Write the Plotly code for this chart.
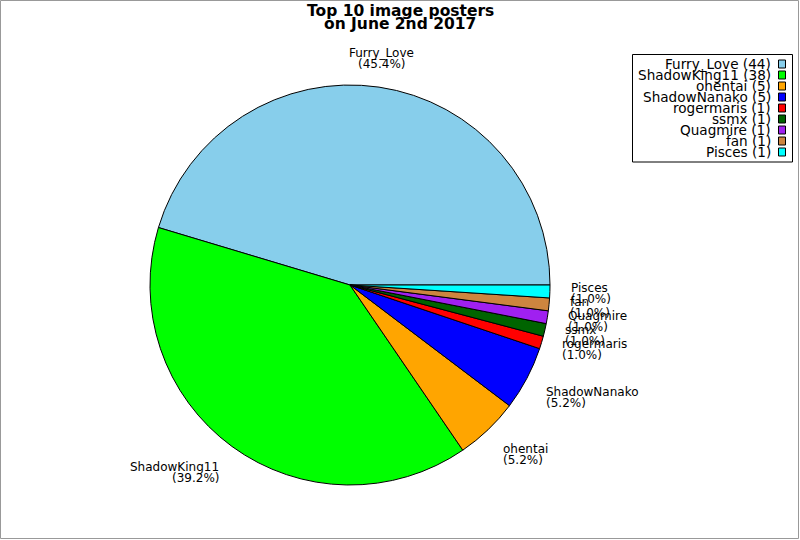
import math
import plotly.graph_objects as go

# ---- data ----
posters = ["Furry_Love", "ShadowKing11", "ohentai", "ShadowNanako", "rogermaris",
           "ssmx", "Quagmire", "fan", "Pisces"]
images = [44, 38, 5, 5, 1, 1, 1, 1, 1]
title_lines = ["Top 10 image posters", "on June 2nd 2017"]

# ---- styles ----
colors = ["#87CEEB", "#00FF00", "#FFA500", "#0000FF", "#FF0000",
          "#006400", "#A020F0", "#CD853F", "#00FFFF"]
FONT = "DejaVu Sans"

W, H = 800, 540
CX, CY, R = 350, 285, 200
LABEL_R = 1.1 * R


def px(x):
    return x / W


def py(y):
    return 1 - y / H


total = float(sum(images))
# plotly (counterclockwise) ends the first slice at `rotation`; make it start at 3 o'clock
rotation = 90 - images[0] / total * 360

fig = go.Figure(go.Pie(
    labels=posters, values=images, sort=False,
    direction="counterclockwise", rotation=rotation,
    marker=dict(colors=colors, line=dict(color="black", width=1)),
    textinfo="none", hoverinfo="label+value+percent",
    domain=dict(x=[px(CX - R), px(CX + R)], y=[py(CY + R), py(CY - R)]),
    showlegend=False,
))

annotations = []
shapes = []

# title
for i, t in enumerate(title_lines):
    annotations.append(dict(
        text="<b>%s</b>" % t, x=0.5, y=py(11 + 13 * i), xref="paper", yref="paper",
        xanchor="center", yanchor="middle", showarrow=False,
        font=dict(family=FONT, size=15.5, color="black")))

# slice labels, placed from the data angles
cum = 0.0
for name, v in zip(posters, images):
    mid = (cum + v / 2.0) / total * 2 * math.pi
    cum += v
    c, s = math.cos(mid), math.sin(mid)
    ax = CX + LABEL_R * c
    ay = CY - LABEL_R * s
    if c > 0.3:
        xa = "left"
    elif c < -0.3:
        xa = "right"
    else:
        xa = "center"
    if s > 0.3:
        top = ay - 20
    elif s < -0.3:
        top = ay - 1
    else:
        top = ay - 10
    pct = "(%.1f%%)" % (100.0 * v / total)
    for j, line in enumerate([name, pct]):
        annotations.append(dict(
            text=line, x=px(ax), y=py(top + 5.5 + 11 * j), xref="paper", yref="paper",
            xanchor=xa, yanchor="middle", showarrow=False, borderpad=0,
            font=dict(family=FONT, size=12, color="black")))

# legend (text on the left, swatch on the right)
LX0, LX1, LY0 = 632.5, 792.5, 54.5
ROW = 11
shapes.append(dict(type="rect", xref="paper", yref="paper",
                   x0=px(LX0), x1=px(LX1), y0=py(LY0), y1=py(LY0 + 9.5 + ROW * len(posters) - 1),
                   line=dict(color="black", width=1), fillcolor="white", layer="below"))
for i, (name, v) in enumerate(zip(posters, images)):
    yc = 64 + ROW * i
    annotations.append(dict(
        text="%s (%d)" % (name, v), x=px(772), y=py(yc), xref="paper", yref="paper",
        xanchor="right", yanchor="middle", showarrow=False, borderpad=0,
        font=dict(family=FONT, size=13.6, color="black")))
    shapes.append(dict(type="rect", xref="paper", yref="paper",
                       x0=px(778.5), x1=px(785.5), y0=py(yc + 4), y1=py(yc - 4),
                       fillcolor=colors[i], line=dict(color="black", width=1)))

# outer frame
shapes.append(dict(type="rect", xref="paper", yref="paper",
                   x0=px(0.5), x1=px(798.5), y0=py(538.5), y1=py(0.5),
                   line=dict(color="#999999", width=1)))

fig.update_layout(
    width=W, height=H, margin=dict(l=0, r=0, t=0, b=0),
    paper_bgcolor="white", plot_bgcolor="white",
    font=dict(family=FONT, size=12, color="black"),
    annotations=annotations, shapes=shapes, showlegend=False,
)

fig.write_html("out.html", config={"displayModeBar": False},
               post_script="document.body.style.margin='0';")
